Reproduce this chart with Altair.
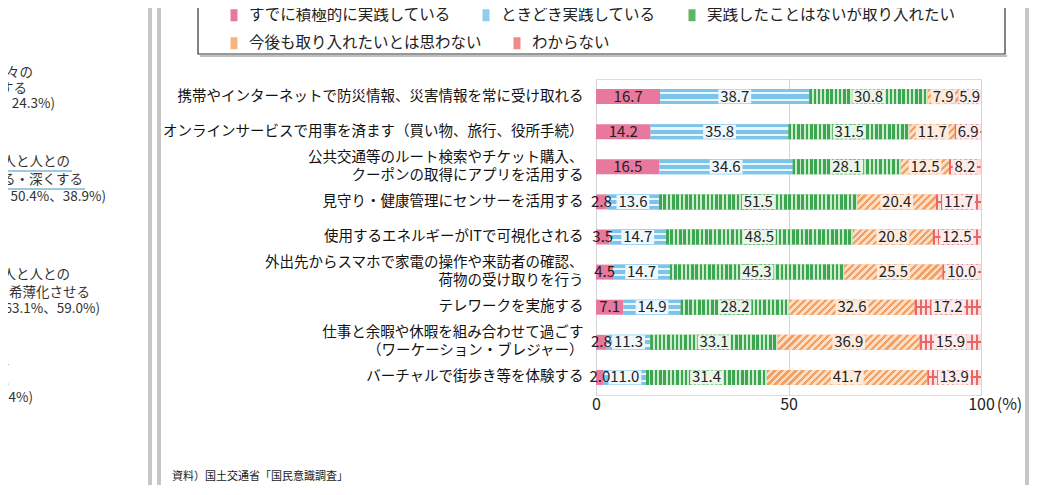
import altair as alt
import pandas as pd

FONT = "Noto Sans CJK JP"

categories = [
    "携帯やインターネットで防災情報、災害情報を常に受け取れる",
    "オンラインサービスで用事を済ます（買い物、旅行、役所手続）",
    "公共交通等のルート検索やチケット購入、\nクーポンの取得にアプリを活用する",
    "見守り・健康管理にセンサーを活用する",
    "使用するエネルギーがITで可視化される",
    "外出先からスマホで家電の操作や来訪者の確認、\n荷物の受け取りを行う",
    "テレワークを実施する",
    "仕事と余暇や休暇を組み合わせて過ごす\n（ワーケーション・ブレジャー）",
    "バーチャルで街歩き等を体験する",
]
series = [
    "すでに積極的に実践している",
    "ときどき実践している",
    "実践したことはないが取り入れたい",
    "今後も取り入れたいとは思わない",
    "わからない",
]
s_active = [16.7, 14.2, 16.5, 2.8, 3.5, 4.5, 7.1, 2.8, 2.0]
s_sometimes = [38.7, 35.8, 34.6, 13.6, 14.7, 14.7, 14.9, 11.3, 11.0]
s_want = [30.8, 31.5, 28.1, 51.5, 48.5, 45.3, 28.2, 33.1, 31.4]
s_not = [7.9, 11.7, 12.5, 20.4, 20.8, 25.5, 32.6, 36.9, 41.7]
s_unknown = [5.9, 6.9, 8.2, 11.7, 12.5, 10.0, 17.2, 15.9, 13.9]
colors = ["#E9789E", "#8FCCEE", "#5DB862", "#F6B482", "#F08A8A"]

W, H = 385, 316
BAR = 15

all_series = [s_active, s_sometimes, s_want, s_not, s_unknown]
rows = []
for i, cat in enumerate(categories):
    start = 0.0
    for j, name in enumerate(series):
        v = all_series[j][i]
        mid = start + v / 2
        txt = f"{v:.1f}"
        hw = ((len(txt) - 1) * 8.6 + 4) / 2 + 1.5   # half label width, px
        hw = hw / W * 100
        rows.append({"cat": cat, "series": name, "value": v,
                     "start": start, "end": start + v, "mid": mid,
                     "bg0": max(start, mid - hw), "bg1": min(start + v, mid + hw),
                     "order": j})
        start += v
df = pd.DataFrame(rows)

ycat = alt.Y("cat:N", sort=categories,
             scale=alt.Scale(paddingInner=0, paddingOuter=0),
             axis=alt.Axis(title=None, ticks=False, domain=False,
                           labelExpr="split(datum.label, '\\n')",
                           labelOffset={"condition": {
                               "test": "indexof(datum.value, '\\n') >= 0",
                               "value": -9}, "value": 0},
                           labelFont=FONT, labelFontSize=14.5,
                           labelColor="#111", labelPadding=13,
                           labelLimit=500, labelLineHeight=18))
ysimple = alt.Y("cat:N", sort=categories)

xval = alt.X("start:Q", scale=alt.Scale(domain=[0, 100], nice=False),
             axis=alt.Axis(values=[0, 50, 100], title="(%)", titleAngle=0,
                           titleX=413, titleY=9, titleBaseline="middle",
                           titleAlign="center", titleFont=FONT,
                           titleFontSize=16, titleFontWeight="normal",
                           titleColor="#222",
                           ticks=False, domain=False, labelFlush=False,
                           labelFont=FONT, labelFontSize=16,
                           labelColor="#222", labelPadding=1,
                           grid=True, gridColor="#d4d4d4"))


def legend_at(y, pad, expr=None):
    kw = {}
    if expr:
        kw["labelExpr"] = expr
    return alt.Legend(orient="none", legendX=-372, legendY=y,
                      direction="horizontal", columnPadding=pad,
                      symbolType="M-0.35,-0.6H0.35V0.6H-0.35Z",
                      symbolSize=400, symbolStrokeWidth=0,
                      labelFont=FONT, labelFontSize=15.5,
                      labelColor="#222", labelOffset=5,
                      labelLimit=400, title=None, padding=0, **kw)


base = alt.Chart(df)
bars_a = base.transform_filter(
    alt.FieldOneOfPredicate(field="series", oneOf=series[:3])
).mark_bar(size=BAR).encode(
    y=ycat, x=xval, x2="end:Q",
    color=alt.Color("series:N", sort=series[:3],
                    scale=alt.Scale(domain=series[:3], range=colors[:3]),
                    legend=legend_at(
                        -74, 25,
                        "datum.label == '" + series[0] +
                        "' ? datum.label + '\u3000\u3000' : datum.label")),
)
bars_b = base.transform_filter(
    alt.FieldOneOfPredicate(field="series", oneOf=series[3:])
).mark_bar(size=BAR).encode(
    y=ysimple, x="start:Q", x2="end:Q",
    fill=alt.Fill("series:N", sort=series[3:],
                  scale=alt.Scale(domain=series[3:], range=colors[3:]),
                  legend=legend_at(-46, 25)),
)


def stripe_stops(n, duty, c_line, c_bg):
    stops = []
    for k in range(n):
        a, b, c = k / n, (k + duty) / n, (k + 1) / n
        stops += [alt.GradientStop(color=c_line, offset=a),
                  alt.GradientStop(color=c_line, offset=b),
                  alt.GradientStop(color=c_bg, offset=b),
                  alt.GradientStop(color=c_bg, offset=c)]
    return stops


def bar_layer(sname, cat, fill):
    return base.transform_filter(
        (alt.datum.series == sname) & (alt.datum.cat == cat)
    ).mark_bar(size=BAR, fill=fill).encode(y=ysimple, x="start:Q", x2="end:Q")


pattern_layers = []

# horizontal stripes: "sometimes"
blue_stops = [("#7CC4EA", 0), ("#7CC4EA", 0.22), ("#EAF6FC", 0.22),
              ("#EAF6FC", 0.36), ("#7CC4EA", 0.36), ("#7CC4EA", 0.64),
              ("#EAF6FC", 0.64), ("#EAF6FC", 0.78), ("#7CC4EA", 0.78),
              ("#7CC4EA", 1)]
blue_grad = alt.Gradient(gradient="linear", x1=0, y1=0, x2=0, y2=1,
                         stops=[alt.GradientStop(color=c, offset=o)
                                for c, o in blue_stops])
pattern_layers.append(base.transform_filter(
    alt.datum.series == series[1]
).mark_bar(size=BAR, fill=blue_grad).encode(y=ysimple, x="start:Q", x2="end:Q"))

for i, cat in enumerate(categories):
    # vertical stripes: "want"
    wpx = s_want[i] / 100 * W
    n = max(1, round(wpx / 4.3))
    g = alt.Gradient(gradient="linear", x1=0, y1=0, x2=1, y2=0,
                     stops=stripe_stops(n, 0.58, "#3DA650", "#CDEBCF"))
    pattern_layers.append(bar_layer(series[2], cat, g))

    # diagonal stripes: "not"
    wpx = s_not[i] / 100 * W
    k = BAR / wpx
    s = (1 + k) / (1 + k * k)
    n = max(1, round((wpx + BAR) / 7))
    g = alt.Gradient(gradient="linear", x1=0, y1=0, x2=s, y2=s * k,
                     stops=stripe_stops(n, 0.45, "#F3A062", "#FCDDC6"))
    pattern_layers.append(bar_layer(series[3], cat, g))

    # vertical thin stripes: "unknown"
    wpx = s_unknown[i] / 100 * W
    n = max(1, round(wpx / 5))
    g = alt.Gradient(gradient="linear", x1=0, y1=0, x2=1, y2=0,
                     stops=stripe_stops(n, 0.35, "#EC6464", "#FBE2E2"))
    pattern_layers.append(bar_layer(series[4], cat, g))

# horizontal cross line over "unknown"
T = "rgba(255,255,255,0)"
cross = alt.Gradient(gradient="linear", x1=0, y1=0, x2=0, y2=1, stops=[
    alt.GradientStop(color=T, offset=0), alt.GradientStop(color=T, offset=0.43),
    alt.GradientStop(color="#EC6464", offset=0.43),
    alt.GradientStop(color="#EC6464", offset=0.57),
    alt.GradientStop(color=T, offset=0.57), alt.GradientStop(color=T, offset=1)])
pattern_layers.append(base.transform_filter(
    alt.datum.series == series[4]
).mark_bar(size=BAR, fill=cross).encode(y=ysimple, x="start:Q", x2="end:Q"))

# light backing behind value labels on patterned segments
label_bg = base.transform_filter(
    alt.FieldOneOfPredicate(field="series", oneOf=series[1:])
).mark_bar(size=BAR - 1).encode(
    y=ysimple, x="bg0:Q", x2="bg1:Q",
    color=alt.Color("series:N", scale=alt.Scale(
        domain=series[1:],
        range=["#EEF8FD", "#EAF6EA", "#FDEBDD", "#FDECEC"]), legend=None),
)

labels = base.mark_text(font=FONT, fontSize=15, color="#222",
                        baseline="middle", align="center").encode(
    y=ysimple,
    x="mid:Q",
    text=alt.Text("value:Q", format=".1f"),
)

one = pd.DataFrame({"a": [0]})

# page frame and legend box (layout only)
frame_x = [-446, -437, 431]
frames = [alt.Chart(one).mark_rule(color="#c6c6c6", strokeWidth=4).encode(
    x=alt.value(fx), y=alt.value(-90), y2=alt.value(430)) for fx in frame_x]

box = alt.Chart(one).mark_rect(fill="white", fillOpacity=0, stroke="#333",
                               strokeWidth=1.2).encode(
    x=alt.value(-398), x2=alt.value(409), y=alt.value(-95), y2=alt.value(-25))
box_shadow = alt.Chart(one).mark_rule(color="#aaa", strokeWidth=1.5).encode(
    x=alt.value(-396), x2=alt.value(411), y=alt.value(-23))

source = alt.Chart(one).mark_text(font=FONT, fontSize=11, color="#222",
                                  align="left", baseline="middle").encode(
    x=alt.value(-424), y=alt.value(398),
    text=alt.value("資料）国土交通省「国民意識調査」"))

# cropped neighbouring text at the left edge of the page
left_texts = [
    ("日々の", 33, 73), ("する", 27, 89), ("、24.3%)", 55, 104),
    ("は人と人との", 70, 162), ("げる・深くする", 83, 180),
    ("、50.4%、38.9%)", 106, 197),
    ("た人と人との", 70, 275), ("・希薄化させる", 90, 293),
    ("、63.1%、59.0%)", 100, 309),
    ("を", 10, 367), ("る", 10, 383), ("2.4%)", 33, 398),
]
left_layers = [alt.Chart(one).mark_text(font=FONT, fontSize=13.5,
                                        color="#333", align="right",
                                        baseline="middle").encode(
    x=alt.value(px - 596), y=alt.value(py - 79), text=alt.value(t))
    for t, px, py in left_texts]
underlines = [alt.Chart(one).mark_rule(color="#3f8fc9", strokeWidth=1.2).encode(
    x=alt.value(-600), x2=alt.value(px - 596), y=alt.value(py - 79))
    for px, py in [(72, 171), (85, 189)]]

chart = alt.layer(bars_a, bars_b, *pattern_layers, label_bg, labels,
                  *frames, box, box_shadow, source,
                  *left_layers, *underlines).properties(
    width=W, height=H,
    autosize=alt.AutoSizeParams(type="none"),
    padding={"left": 588, "top": 71, "right": 55, "bottom": 90},
).resolve_scale(color="independent").configure_view(stroke=None).configure(
    background="white")

chart.save("out.html", embed_options={"renderer": "svg", "actions": False})
